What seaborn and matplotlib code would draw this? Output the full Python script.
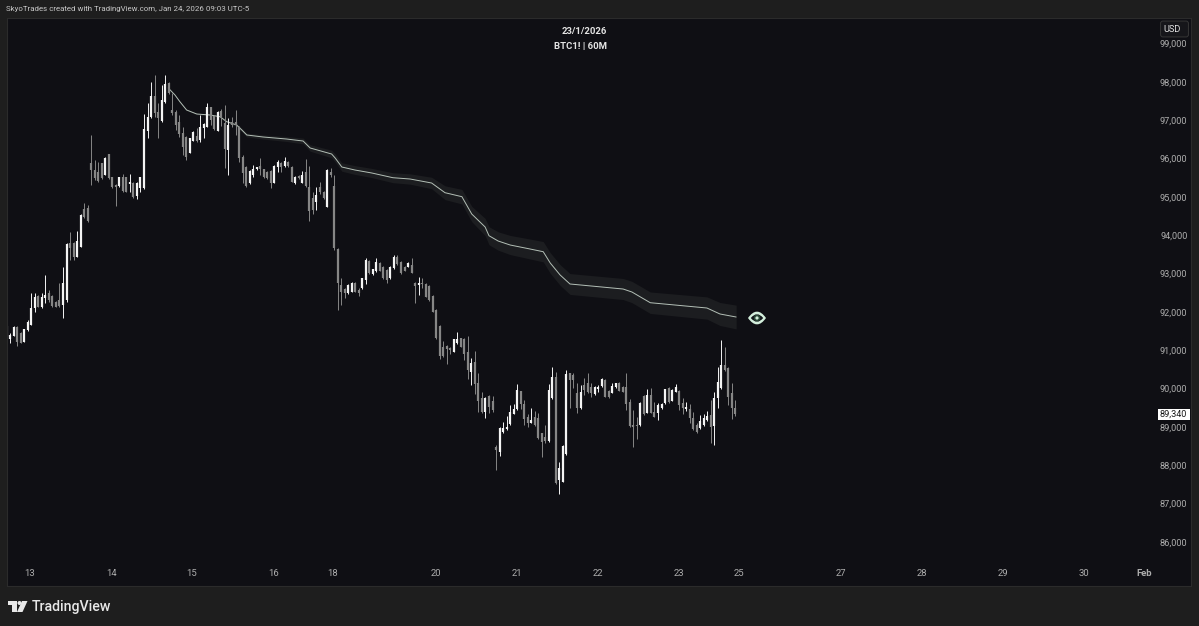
import numpy as np
import pandas as pd
import matplotlib
matplotlib.use("Agg")
from matplotlib import pyplot as plt
from matplotlib.patches import Ellipse, PathPatch, Polygon, Rectangle, FancyBboxPatch
from matplotlib.path import Path
import seaborn as sns

# BTC1! 60M candles
opens = [91620,91285,91372,91616,91459,91224,91529,91659,92094,92415,
         92120,92354,92485,92415,92268,92311,92180,92311,93789,93806,
         93441,93702,94684,94702,95893,95701,95658,95875,95571,96110,
         95510,95310,95284,95510,95510,95336,95371,95023,95223,95223,
         96727,97075,97631,97223,96979,97483,97979,97266,97223,96962,
         96675,96553,96153,96466,96588,96484,96788,96831,97336,97110,
         96727,97240,96918,96223,96962,96962,96831,96049,95788,95354,
         95571,95719,95806,95719,95658,95684,95371,95788,95893,95806,
         95919,95788,95354,95545,95371,95658,95267,94962,94875,95267,
         95136,94745,95658,95284,93641,92702,92589,92485,92529,92763,
         92572,92615,92833,93337,92989,93076,93285,93180,93094,92876,
         93137,93424,93311,93180,93180,93224,92763,92702,92763,92720,
         92676,92415,92050,91633,91077,91111,91050,90964,91181,91311,
         91285,90964,90442,90703,90138,89747,89399,89808,89686,88485,
         88355,88876,88937,89076,89337,89459,89937,89598,89250,89111,
         89250,89224,88833,88746,88642,89746,90293,87616,87572,88294,
         90398,90354,89876,89485,90093,90137,90050,89850,89980,90067,
         90224,89946,89893,90033,90154,90050,90033,89659,89050,89050,
         89050,89807,89372,89833,89398,89372,89485,89615,90007,89685,
         89920,89946,89615,89459,89459,89224,89050,88963,89050,89181,
         89311,89024,89746,90007,90615,90528,89876,89485]
highs = [91660,91442,91640,91633,91470,91560,91790,92485,92485,92440,
         92485,92963,92572,92440,92290,92763,93180,93790,94076,93832,
         94110,94550,94832,94788,96614,95962,95919,95890,96040,96130,
         95530,95336,95530,95597,95530,95597,95390,95397,95527,97162,
         97440,98005,98179,97440,97918,98179,98005,97701,97266,97136,
         96831,96588,96545,96720,96788,97136,96918,97457,97353,97130,
         97240,97283,97396,97049,97092,97266,96840,96092,95806,95700,
         95832,95790,96006,95735,95675,95700,95825,95962,95919,96032,
         95935,95805,95545,95560,95684,95979,95806,95136,95267,95397,
         95155,95720,95745,95571,93658,92876,92615,92720,92780,92780,
         92615,92890,93398,93355,93125,93398,93300,93195,93110,93195,
         93485,93485,93325,93195,93300,93398,92789,92920,92876,92746,
         92690,92441,92065,91650,91250,91138,91077,91300,91468,91330,
         91311,91372,90790,90981,90399,89921,89773,89834,89808,88529,
         88990,89137,89285,89572,89598,90120,89950,89702,89337,89485,
         89424,89372,88850,89050,90120,90572,90424,88094,88525,90485,
         90415,90398,90154,90093,90267,90398,90154,90065,90093,90285,
         90241,89963,90154,90155,90170,90065,90398,89720,89441,89268,
         89650,89833,89980,90007,89659,89615,89615,90000,90033,89980,
         90120,89963,89746,89659,89598,89398,89094,89311,89337,89424,
         89702,89920,90572,91267,91093,90554,90154,89702]
lows = [91140,91198,91360,91120,91190,91210,91510,91650,92007,92120,
        92094,92224,92268,92140,92120,92137,91833,92268,93354,93354,
        93424,93690,94441,94354,95310,95440,95397,95470,95560,95470,
        95230,94771,95270,95136,95120,95136,94970,94945,95136,95210,
        96527,97060,97092,96527,96944,97457,97683,97136,96744,96553,
        96092,95962,96140,96450,96440,96440,96527,96820,96875,96750,
        96710,96849,95745,95571,96831,96614,95919,95354,95249,95340,
        95527,95700,95571,95495,95470,95223,95360,95658,95658,95771,
        95790,95380,95340,95470,95360,95267,94380,94554,94658,95075,
        94945,94730,95510,93615,92050,92180,92354,92470,92510,92510,
        92424,92600,92728,92990,92975,93050,93060,92860,92746,92860,
        93111,93224,92990,93060,93165,93010,92242,92442,92615,92381,
        92295,91990,91295,90764,90833,90633,90903,90950,91170,91080,
        90746,90242,90094,89851,89399,89355,89242,89355,89399,87877,
        88242,88833,88925,89060,89325,89441,89459,89050,89007,89094,
        89035,88676,88224,88590,88616,89720,87512,87251,87555,88280,
        89485,90006,89372,89459,89833,89876,89772,89835,89920,90050,
        89772,89746,89876,90020,89930,89905,89441,89007,88485,88677,
        89035,89311,89355,89355,89250,89181,89470,89600,89633,89670,
        89911,89441,89337,89424,89094,88920,88833,88946,89024,89163,
        88590,88529,89485,89980,90467,89572,89198,89285]
closes = [91350,91398,91616,91224,91198,91546,91746,92094,92380,92137,
          92398,92441,92311,92155,92137,92155,92746,93771,93658,93441,
          93850,94528,94484,94371,95701,95484,95423,95484,96023,95484,
          95249,95267,95510,95162,95136,95380,94988,95354,95510,96770,
          97075,97631,97179,97049,97527,97944,97701,97179,96875,96640,
          96292,96049,96527,96701,96458,96831,96901,97353,97005,96762,
          97223,97075,96240,96875,96875,96875,96006,95614,95284,95684,
          95719,95771,95719,95510,95484,95354,95806,95919,95788,95936,
          95806,95397,95527,95484,95571,95284,94641,94658,95049,95136,
          94962,95701,95571,93658,92746,92528,92485,92702,92763,92529,
          92502,92876,93354,93007,93111,93311,93076,92876,92833,93180,
          93424,93250,93007,93076,93285,93024,92676,92746,92728,92398,
          92311,92007,91312,90851,90851,91024,91007,91285,91285,91094,
          90903,90486,90660,90120,89686,89399,89747,89529,89442,88398,
          88963,88963,89007,89398,89467,89963,89598,89198,89111,89180,
          89050,88703,88616,88642,89963,90293,87529,87920,88503,90372,
          90224,90224,89485,89920,89963,89920,89876,90050,90050,90241,
          89789,89789,90067,90137,89946,89920,89598,89024,89007,89024,
          89633,89337,89833,89372,89268,89572,89598,89980,89659,89963,
          90050,89572,89485,89511,89224,88937,88877,89163,89224,89285,
          89007,89763,90180,90615,90485,89789,89485,89340]

# anchored VWAP and its band half width
vwap_bar = [45.9,47.8,49.2,51.1,54.0,57.8,60.6,62.5,65.3,66.8,68.2,72.8,79.5,84.2,86.2,92.3,93.3,95.2,98.9,103.7,
            109.7,114.6,120.7,124.5,129.3,132.1,135.9,137.0,139.6,143.0,148.7,152.4,154.4,157.2,160.0,175.1,177.6,
            182.8,198.9,202.6,207.2]
vwap_price = [97840,97657,97482,97266,97161,97135,97091,96961,96875,96744,96614,96562,96509,96457,96275,96118,96014,
              95779,95701,95623,95500,95466,95362,95109,95005,94553,94214,93987,93849,93745,93640,93570,93275,92963,
              92728,92597,92519,92240,92102,91946,91867]
band_width = [0,5,10,15,20,25,30,35,40,45,50,55,65,75,85,100,105,110,115,120,130,135,150,180,190,200,225,235,240,250,
              260,265,268,270,272,275,278,280,290,300,310]

price_ticks = [99000,98000,97000,96000,95000,94000,93000,92000,91000,90000,89000,88000,87000,86000]
date_ticks = [6.6,29.9,52.6,75.7,92.7,121.9,145,168,191,208,237,260,283,306,323]
date_labels = ["13","14","15","16","18","20","21","22","23","25","27","28","29","30","Feb"]
last_price = 89340

W, H = 1199, 626
OUTER = "#1e1e1e"
PANE = "#0f0f14"
UP = "#f4f4f4"
DOWN = "#868686"
TEXT = "#adadad"
MINT = "#d3efdc"

sns.set_theme(style="dark", rc={"figure.facecolor": OUTER, "axes.facecolor": PANE, "axes.edgecolor": "#2b2b2b",
                                "axes.linewidth": 0.8, "axes.grid": False})
plt.rcParams["font.family"] = ["Roboto", "DejaVu Sans"]


def fx(px):
    return px / W


def fy(py):
    return 1 - py / H


fig = plt.figure(figsize=(W / 100, H / 100), dpi=100)
ax = fig.add_axes([fx(7), fy(586), (1191 - 7) / W, (586 - 18) / H])

bars = np.arange(len(opens))
o, hi, lo, c = map(np.array, (opens, highs, lows, closes))
side = np.where(c >= o, "up", "down")
palette = {"up": UP, "down": DOWN}

wicks = pd.DataFrame({"candle": np.repeat(bars, 2), "price": np.column_stack([lo, hi]).ravel(),
                      "side": np.repeat(side, 2)})
bodies = pd.DataFrame({"candle": np.repeat(bars, 2), "price": np.column_stack([o, c]).ravel(),
                       "side": np.repeat(side, 2)})
vwap = pd.DataFrame({"bar": vwap_bar, "price": vwap_price, "band": band_width})

ax.fill_between(vwap["bar"], vwap["price"] - vwap["band"], vwap["price"] + vwap["band"], color="#1c1d20", lw=0)
sns.lineplot(data=vwap, x="bar", y="price", color="#b4c0b7", lw=0.7, errorbar=None, ax=ax)
sns.lineplot(data=wicks, x="candle", y="price", hue="side", units="candle", estimator=None, palette=palette,
             lw=0.7, legend=False, solid_capstyle="butt", ax=ax)
sns.lineplot(data=bodies, x="candle", y="price", hue="side", units="candle", estimator=None, palette=palette,
             lw=1.6, legend=False, solid_capstyle="butt", ax=ax)

ax.set_xlim(0.09, 336.4)
ax.set_ylim(84852, 99665)
ax.set_xlabel("")
ax.set_ylabel("")

ax.yaxis.tick_right()
ax.set_yticks(price_ticks)
ax.set_yticklabels([f"{p:,}" for p in price_ticks], ha="right")
ax.tick_params(axis="y", length=0, pad=-2.6, labelsize=6.6, labelcolor=TEXT)
ax.set_xticks(date_ticks)
ax.set_xticklabels(date_labels)
ax.tick_params(axis="x", length=0, pad=-12.5, labelsize=6.8, labelcolor=TEXT)
ax.get_xticklabels()[-1].set_fontweight("bold")

# header and title
fig.text(fx(6), fy(9), "SkyoTrades created with TradingView.com, Jan 24, 2026 09:03 UTC-5", color="#c8c8c8",
         fontsize=5.7, va="center", ha="left")
fig.text(fx(584.5), fy(31), "23/1/2026", color="#e4e4e4", fontsize=6.8, va="center", ha="center", fontweight="bold")
fig.text(fx(581), fy(47), "BTC1! | 60M", color="#e4e4e4", fontsize=6.8, va="center", ha="center", fontweight="bold")

# currency button
fig.add_artist(FancyBboxPatch((fx(1162), fy(35.5)), 25 / W, 13 / H, boxstyle="round,pad=0.0012,rounding_size=0.002",
                              mutation_aspect=W / H, transform=fig.transFigure, fc="#16161a", ec="#363636", lw=0.7))
fig.text(fx(1172), fy(29), "USD", color="#e4e4e4", fontsize=6.6, va="center", ha="center")

# last price tag
fig.add_artist(Rectangle((fx(1158), fy(420)), 32 / W, 11 / H, transform=fig.transFigure, fc="#ffffff", ec="none"))
fig.text(fx(1186.5), fy(414.5), f"{last_price:,}", color="#1a1a1a", fontsize=6.6, va="center", ha="right")

# eye marker at the end of the line
cx, cy = 757, 318
for half_w, half_h, colour in [(9, 6.4, MINT), (6.2, 3.8, "#12151a")]:
    eye = Path([(fx(cx - half_w), fy(cy)), (fx(cx), fy(cy - 2 * half_h)), (fx(cx + half_w), fy(cy)),
                (fx(cx), fy(cy + 2 * half_h)), (fx(cx - half_w), fy(cy))],
               [Path.MOVETO, Path.CURVE3, Path.CURVE3, Path.CURVE3, Path.CURVE3])
    fig.add_artist(PathPatch(eye, transform=fig.transFigure, fc=colour, ec="none"))
fig.add_artist(Ellipse((fx(cx), fy(cy)), 6.4 / W, 6.4 / H, transform=fig.transFigure, fc="#2a4a38", ec="none"))
fig.add_artist(Ellipse((fx(cx), fy(cy)), 3.2 / W, 3.2 / H, transform=fig.transFigure, fc=MINT, ec="none"))

# TradingView logo
logo = "#e8e8e8"
fig.add_artist(Polygon([(fx(8), fy(601)), (fx(17), fy(601)), (fx(17), fy(612)), (fx(12), fy(612)), (fx(12), fy(605)),
                        (fx(8), fy(605))], transform=fig.transFigure, fc=logo, ec="none"))
fig.add_artist(Ellipse((fx(19.5), fy(603)), 4 / W, 4 / H, transform=fig.transFigure, fc=logo, ec="none"))
fig.add_artist(Polygon([(fx(22), fy(601)), (fx(27.5), fy(601)), (fx(22.5), fy(612)), (fx(17), fy(612))],
                       transform=fig.transFigure, fc=logo, ec="none"))
fig.text(fx(32), fy(606.5), "TradingView", color=logo, fontsize=10.2, va="center", ha="left", fontweight="medium")

fig.savefig("out.png", dpi=100, facecolor=fig.get_facecolor())
